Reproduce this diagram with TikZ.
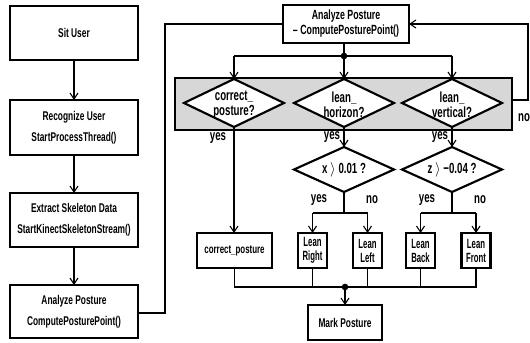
\documentclass[tikz,border=0pt]{standalone}
\usepackage{fontspec}
\setmainfont{Liberation Sans}[FakeStretch=0.66]
\newfontfamily\narrowfont{Liberation Sans}[FakeStretch=0.58]
\usetikzlibrary{shapes.geometric,arrows.meta}
\definecolor{boxgray}{RGB}{215,215,215}
\begin{document}
\begin{tikzpicture}[x=0.75pt,y=-0.75pt,
  every node/.style={inner sep=0pt,outer sep=0pt},
  box/.style={draw,line width=1.6pt,fill=white,align=center,
    font=\bfseries\fontsize{9.5}{15.75}\selectfont},
  topbox/.style={box,font=\bfseries\fontsize{10}{11.25}\selectfont},
  smallbox/.style={draw,line width=1.6pt,fill=white,align=center,
    minimum height=26.25pt,font=\bfseries\fontsize{9}{10.5}\selectfont},
  leanbox/.style={smallbox,minimum width=21.75pt,font=\narrowfont\bfseries\fontsize{10}{10.5}\selectfont},
  dia/.style={draw,shape=diamond,line width=1.6pt,fill=white,minimum width=75pt},
  diatext/.style={align=center,font=\bfseries\fontsize{11}{11.25}\selectfont},
  lbl/.style={font=\bfseries\fontsize{11}{12}\selectfont},
  conn/.style={line width=0.8pt},
  arr/.style={conn,-{Straight Barb[length=4.5pt,width=6pt]}},
  dot/.style={circle,fill=black,minimum size=5pt}
]
\useasboundingbox (0,0) rectangle (530,342);

% left column
\node[box,minimum width=96pt,minimum height=40.5pt] (sit) at (74,33) {Sit User};
\node[box,minimum width=96pt,minimum height=41.25pt] (rec) at (74,127.5) {Recognize User\\StartProcessThread()};
\node[box,minimum width=96pt,minimum height=40.5pt] (ext) at (74,220) {Extract Skeleton Data\\StartKinectSkeletonStream()};
\node[box,minimum width=96pt,minimum height=39.75pt] (ana) at (74,311.5) {Analyze Posture\\ComputePosturePoint()};
\draw[arr] (sit) -- (rec);
\draw[arr] (rec) -- (ext);
\draw[arr] (ext) -- (ana);

% top box
\node[topbox,minimum width=94.5pt,minimum height=28.5pt] (top) at (346,24) {Analyze Posture\\-- ComputePosturePoint()};
\coordinate (c1) at (165,313);
\coordinate (c2) at (165,24);
\draw[conn] (ana.east |- c1) -- (c1) -- (c2) -- (top.west);

% gray panel
\node[draw,line width=1.6pt,fill=boxgray,minimum width=252.75pt,minimum height=39pt] (panel) at (343.5,104) {};
\node[dia,minimum height=36pt] (d1) at (234,103) {};
\node[dia,minimum height=36pt] (d2) at (344,103) {};
\node[dia,minimum height=36pt] (d3) at (452,103) {};
\node[diatext] (t1) at (234,105) {correct\_\\posture?};
\node[diatext] (t2) at (344,105) {lean\_\\horizon?};
\node[diatext] (t3) at (452,105) {lean\_\\vertical?};

% fan out from top box
\node[dot] (fan) at (344,56) {};
\draw[conn] (top.south -| fan) -- (fan);
\coordinate (f1) at (234,56);
\coordinate (f3) at (452,56);
\draw[conn] (f1) -- (f3);
\draw[arr] (f1) -- (d1.north);
\draw[arr] (fan) -- (d2.north);
\draw[arr] (f3) -- (d3.north);

% feedback loop
\coordinate (n1) at (528,100);
\coordinate (n2) at (528,24);
\draw[arr] (panel.east |- n1) -- (n1) -- (n2) -- (top.east);
\node[lbl] (nolbl) at (524,118) {no};

% second level diamonds
\node[dia,minimum height=33.75pt] (dx) at (344,169.5) {};
\node[dia,minimum height=33.75pt] (dz) at (452,169.5) {};
\node[diatext] (tx) at (344,169.5) {x $\rangle$ 0.01 ?};
\node[diatext] (tz) at (452,169.5) {z $\rangle$ −0.04 ?};

% result boxes
\node[smallbox,minimum width=56.25pt] (cp) at (234.5,250.5) {correct\_posture};
\node[leanbox] (lr) at (312.5,250.5) {Lean\\Right};
\node[leanbox] (ll) at (367.5,250.5) {Lean\\Left};
\node[leanbox] (lb) at (420.5,250.5) {Lean\\Back};
\node[leanbox] (lf) at (476,250.5) {Lean\\Front};
\node[smallbox,minimum width=55.5pt,font=\bfseries\fontsize{9.5}{10.5}\selectfont] (mark) at (345,322.5) {Mark Posture};

% yes branches from panel
\draw[arr] (d1.south) -- (cp.north -| d1.south);
\draw[arr] (d2.south) -- (dx.north);
\draw[arr] (d3.south) -- (dz.north);
\node[lbl] (y1) at (218,138) {yes};
\node[lbl] (y2) at (332,137) {yes};
\node[lbl] (y3) at (440,137) {yes};

% split below x / z diamonds
\coordinate (sx) at (344,213);
\coordinate (sz) at (452,213);
\draw[conn] (dx.south) -- (sx);
\draw[conn] (dz.south) -- (sz);
\draw[conn] (lr.north |- sx) -- (ll.north |- sx);
\draw[conn] (lb.north |- sz) -- (lf.north |- sz);
\draw[arr] (lr.north |- sx) -- (lr.north);
\draw[arr] (ll.north |- sx) -- (ll.north);
\draw[arr] (lb.north |- sz) -- (lb.north);
\draw[arr] (lf.north |- sz) -- (lf.north);
\node[lbl] (yx) at (319,200) {yes};
\node[lbl] (nx) at (372,200) {no};
\node[lbl] (yz) at (427,200) {yes};
\node[lbl] (nz) at (480,200) {no};

% merge
\node[dot] (mg) at (345,287) {};
\coordinate (m1) at (234.5,287);
\coordinate (m2) at (476,287);
\draw[conn] (cp.south) -- (m1) -- (m2) -- (lf.south);
\draw[conn] (lr.south) -- (lr.south |- m1);
\draw[conn] (ll.south) -- (ll.south |- m1);
\draw[conn] (lb.south) -- (lb.south |- m1);
\draw[arr] (mg) -- (mark.north);
\end{tikzpicture}
\end{document}
